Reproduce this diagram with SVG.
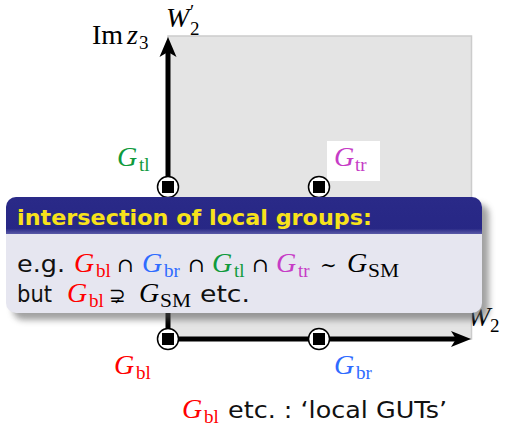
<svg xmlns="http://www.w3.org/2000/svg" width="506" height="428" viewBox="0 0 506 428">
<defs>
<style>
.m{font-family:"Liberation Serif","DejaVu Serif",serif;font-style:italic;font-size:28px}
.r{font-family:"Liberation Serif","DejaVu Serif",serif;font-size:28px}
.o{font-family:"DejaVu Serif","Liberation Serif",serif;font-size:20px}
.s{font-family:"Liberation Serif","DejaVu Serif",serif;font-size:19px}
.t{font-family:"DejaVu Sans","Liberation Sans",sans-serif;font-size:23px;fill:#111}
.red{fill:#ff0000}.blue{fill:#2f6bff}.green{fill:#0f9a3c}.mag{fill:#c63cc6}
.node circle{fill:#fff;stroke:#000;stroke-width:1.5}
.node rect{fill:#000}
.axis{stroke:#000;stroke-width:5;fill:none}
</style>
<filter id="sh" x="-10%" y="-10%" width="130%" height="140%">
<feGaussianBlur stdDeviation="3"/>
</filter>
<linearGradient id="tb" x1="0" y1="0" x2="0" y2="1">
<stop offset="0" stop-color="#2a2a88"/>
<stop offset="0.85" stop-color="#272785"/>
<stop offset="1" stop-color="#5a5aa8"/>
</linearGradient>
</defs>
<rect width="506" height="428" fill="#fff"/>
<g id="label-W2">
<text class="m" x="467" y="326">W</text>
<text class="s" x="490" y="332">2</text>
</g>
<rect id="plane" x="168" y="36" width="303.5" height="303" fill="#e4e4e4" stroke="#cccccc" stroke-width="1.5"/>
<g id="label-Imz3">
<text class="r" x="92" y="44">Im</text>
<text class="m" x="127" y="44">z</text>
<text class="s" x="139" y="49">3</text>
</g>
<g id="label-W2p">
<text class="m" x="166" y="27">W</text>
<text class="s" x="190" y="18" font-size="16">′</text>
<text class="s" x="190" y="35">2</text>
</g>
<g id="connectors">
<line class="axis" x1="168" y1="339" x2="168" y2="50"/>
<path d="M168,37 L176.5,57 L168,52 L159.5,57 Z" fill="#000"/>
<line class="axis" x1="168" y1="339" x2="458" y2="339"/>
<path d="M471,339 L451,331 L456,339 L451,347 Z" fill="#000"/>
</g>
<g id="Gtl">
<text class="m green" x="117" y="166">G</text>
<text class="s green" x="139" y="171">tl</text>
</g>
<g id="Gtr">
<rect x="327" y="141" width="53" height="40" fill="#fff"/>
<text class="m mag" x="334" y="166">G</text>
<text class="s mag" x="355" y="171">tr</text>
</g>
<g id="node-tl" class="node"><circle cx="168" cy="187" r="10.5"/><rect x="162" y="181" width="12" height="12"/></g>
<g id="node-tr" class="node"><circle cx="319" cy="187" r="10.5"/><rect x="313" y="181" width="12" height="12"/></g>
<g id="node-bl" class="node"><circle cx="168" cy="339" r="10.5"/><rect x="162" y="333" width="12" height="12"/></g>
<g id="node-br" class="node"><circle cx="319" cy="339" r="10.5"/><rect x="313" y="333" width="12" height="12"/></g>
<g id="Gbl">
<text class="m red" x="114" y="374">G</text>
<text class="s red" x="136" y="379">bl</text>
</g>
<g id="Gbr">
<text class="m blue" x="334" y="374">G</text>
<text class="s blue" x="356" y="379">br</text>
</g>
<g id="block">
<rect x="13" y="204" width="476" height="116" rx="10" fill="#555" opacity="0.55" filter="url(#sh)"/>
<rect x="6" y="197" width="476" height="116" rx="10" fill="#e6e6f0"/>
<path d="M6,234 V207 A10,10 0 0 1 16,197 H472 A10,10 0 0 1 482,207 V234 Z" fill="url(#tb)"/>
<text x="17" y="225" font-family="DejaVu Sans,Liberation Sans,sans-serif" font-weight="bold" font-size="22" fill="#f7e21b" textLength="355" lengthAdjust="spacingAndGlyphs">intersection of local groups:</text>
<text class="t" x="17" y="272" textLength="48" lengthAdjust="spacingAndGlyphs">e.g.</text>
<text class="m red" x="74" y="272">G</text><text class="s red" x="96" y="277">bl</text>
<text class="o" x="117" y="272">∩</text>
<text class="m blue" x="142" y="272">G</text><text class="s blue" x="164" y="277">br</text>
<text class="o" x="188" y="272">∩</text>
<text class="m green" x="212" y="272">G</text><text class="s green" x="234" y="277">tl</text>
<text class="o" x="252" y="272">∩</text>
<text class="m mag" x="276" y="272">G</text><text class="s mag" x="298" y="277">tr</text>
<text class="o" x="320" y="272" font-size="24">∼</text>
<text class="m" x="347" y="272">G</text><text class="s" x="368" y="277" textLength="31" lengthAdjust="spacingAndGlyphs">SM</text>
<text class="t" x="17" y="302" textLength="35" lengthAdjust="spacingAndGlyphs">but</text>
<text class="m red" x="67" y="302">G</text><text class="s red" x="89" y="307">bl</text>
<text class="o" x="109" y="302">⊋</text>
<text class="m" x="139" y="302">G</text><text class="s" x="160" y="307" textLength="31" lengthAdjust="spacingAndGlyphs">SM</text>
<text class="t" x="200" y="302" textLength="50" lengthAdjust="spacingAndGlyphs">etc.</text>
</g>
<g id="footnote">
<text class="m red" x="182" y="418">G</text><text class="s red" x="204" y="423">bl</text>
<text class="t" x="228" y="418" textLength="219" lengthAdjust="spacingAndGlyphs">etc. : ‘local GUTs’</text>
</g>
</svg>
